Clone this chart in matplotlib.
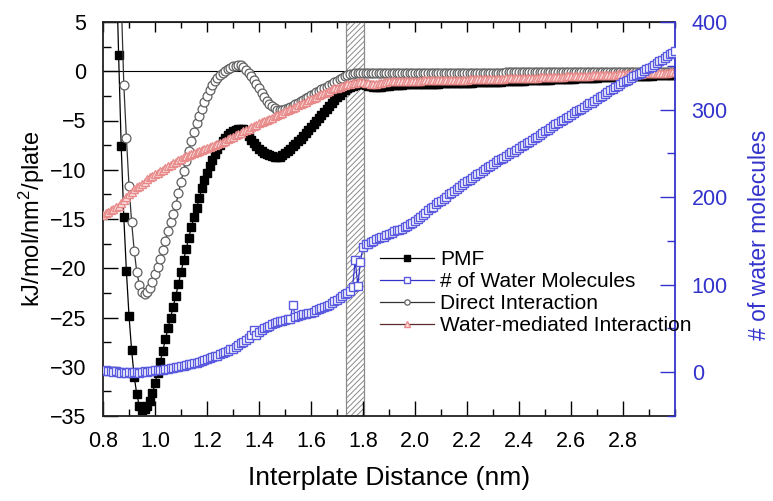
import numpy as np
import matplotlib
matplotlib.use("Agg")
import matplotlib.pyplot as plt
from matplotlib.ticker import MultipleLocator, FixedLocator, FormatStrFormatter

plt.rcParams["font.family"] = ["Liberation Sans", "DejaVu Sans"]
plt.rcParams["mathtext.default"] = "regular"
plt.rcParams["hatch.linewidth"] = 0.7
plt.rcParams["hatch.color"] = "#8a8a8a"

BLUE = "#3333cc"
SQ_BLUE = "#5a5ae0"
PINK = "#e88a8a"

# energies (kJ/mol/nm^2/plate), 0.01 nm spacing
x_pmf = np.round(np.arange(0.85, 3.0001, 0.01), 2)
pmf = [
    12.0, 1.7, -7.6, -14.8, -20.3, -24.8, -28.3, -31.0, -32.8, -34.0,
    -34.4, -34.3, -34.0, -33.5, -32.7, -31.7, -30.6, -29.5, -28.4, -27.2,
    -26.1, -25.0, -23.9, -22.8, -21.6, -20.4, -19.2, -18.0, -16.9, -15.8,
    -14.8, -13.9, -12.9, -11.9, -11.0, -10.3, -9.6, -9.0, -8.4, -7.9,
    -7.5, -7.1, -6.8, -6.5, -6.3, -6.1, -6.0, -5.9, -5.85, -5.9,
    -6.2, -6.6, -7.0, -7.3, -7.6, -7.85, -8.1, -8.3, -8.45, -8.55,
    -8.65, -8.7, -8.75, -8.7, -8.55, -8.35, -8.1, -7.85, -7.6, -7.35,
    -7.1, -6.85, -6.55, -6.25, -5.95, -5.65, -5.35, -5.05, -4.75, -4.45,
    -4.15, -3.85, -3.55, -3.25, -2.95, -2.65, -2.4, -2.15, -1.95, -1.75,
    -1.6, -1.45, -1.35, -1.3, -1.25, -1.3, -1.4, -1.45, -1.5, -1.55,
    -1.6, -1.6, -1.55, -1.5, -1.45, -1.45, -1.4, -1.4, -1.35, -1.35,
    -1.35, -1.3, -1.3, -1.3, -1.3, -1.3, -1.3, -1.3, -1.25, -1.25,
    -1.25, -1.25, -1.25, -1.25, -1.25, -1.2, -1.2, -1.2, -1.2, -1.2,
    -1.2, -1.2, -1.2, -1.15, -1.15, -1.15, -1.15, -1.15, -1.1, -1.1,
    -1.1, -1.1, -1.1, -1.1, -1.05, -1.05, -1.05, -1.05, -1.05, -1.0,
    -1.0, -1.0, -1.0, -1.0, -0.95, -0.95, -0.95, -0.95, -0.9, -0.9,
    -0.9, -0.9, -0.9, -0.85, -0.85, -0.85, -0.85, -0.85, -0.8, -0.8,
    -0.8, -0.8, -0.8, -0.75, -0.75, -0.75, -0.75, -0.7, -0.7, -0.7,
    -0.7, -0.7, -0.65, -0.65, -0.65, -0.65, -0.6, -0.6, -0.6, -0.6,
    -0.6, -0.55, -0.55, -0.55, -0.55, -0.5, -0.5, -0.5, -0.5, -0.5,
    -0.5, -0.45, -0.45, -0.45, -0.45, -0.45, -0.45, -0.4, -0.4, -0.4,
    -0.4, -0.4, -0.4, -0.4, -0.35, -0.35,
]
direct = [
    26.0, 17.0, 7.5, -1.35, -6.8, -11.6, -15.3, -18.2, -20.4, -21.7,
    -22.4, -22.6, -22.4, -22.0, -21.4, -20.6, -19.9, -19.1, -18.1, -17.2,
    -16.2, -15.3, -14.5, -13.6, -12.4, -11.2, -10.1, -9.1, -8.1, -7.1,
    -6.2, -5.3, -4.5, -3.8, -3.1, -2.5, -1.9, -1.4, -1.0, -0.65,
    -0.4, -0.15, 0.05, 0.22, 0.38, 0.5, 0.57, 0.6, 0.6, 0.45,
    0.15, -0.15, -0.5, -0.9, -1.3, -1.75, -2.2, -2.65, -3.0, -3.3,
    -3.55, -3.75, -3.9, -3.95, -3.95, -3.85, -3.75, -3.65, -3.5, -3.35,
    -3.2, -3.05, -2.9, -2.75, -2.6, -2.45, -2.3, -2.15, -2.0, -1.85,
    -1.7, -1.55, -1.4, -1.25, -1.1, -0.95, -0.8, -0.65, -0.5, -0.4,
    -0.3, -0.25, -0.2, -0.18, -0.16, -0.15, -0.15, -0.15, -0.15, -0.15,
    -0.15, -0.15, -0.15, -0.15, -0.15, -0.15, -0.15, -0.15, -0.15, -0.15,
    -0.15, -0.15, -0.15, -0.15, -0.15, -0.15, -0.15, -0.15, -0.15, -0.15,
    -0.15, -0.15, -0.15, -0.15, -0.15, -0.15, -0.15, -0.15, -0.15, -0.15,
    -0.15, -0.15, -0.15, -0.15, -0.15, -0.14, -0.14, -0.14, -0.14, -0.14,
    -0.13, -0.13, -0.13, -0.13, -0.13, -0.13, -0.13, -0.13, -0.13, -0.13,
    -0.12, -0.12, -0.12, -0.12, -0.12, -0.12, -0.12, -0.12, -0.12, -0.12,
    -0.12, -0.12, -0.12, -0.12, -0.12, -0.12, -0.12, -0.12, -0.12, -0.12,
    -0.11, -0.11, -0.11, -0.11, -0.11, -0.11, -0.11, -0.11, -0.11, -0.11,
    -0.1, -0.1, -0.1, -0.1, -0.1, -0.1, -0.1, -0.1, -0.1, -0.1,
    -0.1, -0.1, -0.1, -0.1, -0.1, -0.1, -0.1, -0.1, -0.1, -0.1,
    -0.09, -0.09, -0.09, -0.09, -0.09, -0.08, -0.08, -0.08, -0.08, -0.08,
    -0.07, -0.07, -0.07, -0.06, -0.06, -0.05,
]

x_wat = np.round(np.arange(0.80, 3.0001, 0.01), 2)
water_med = [
    -14.6, -14.4, -14.3, -14.1, -14.0, -13.8, -13.7, -13.4, -13.1, -12.8,
    -12.5, -12.3, -12.0, -11.8, -11.6, -11.4, -11.2, -10.9, -10.7, -10.6,
    -10.4, -10.3, -10.1, -10.0, -9.8, -9.65, -9.5, -9.35, -9.2, -9.05,
    -8.9, -8.75, -8.6, -8.5, -8.4, -8.25, -8.15, -8.05, -7.95, -7.85,
    -7.75, -7.65, -7.55, -7.5, -7.4, -7.3, -7.2, -7.05, -6.9, -6.75,
    -6.65, -6.5, -6.4, -6.25, -6.1, -6.0, -5.85, -5.7, -5.6, -5.45,
    -5.3, -5.2, -5.05, -4.95, -4.8, -4.7, -4.55, -4.45, -4.3, -4.2,
    -4.05, -3.95, -3.8, -3.7, -3.6, -3.45, -3.35, -3.2, -3.1, -2.95,
    -2.85, -2.7, -2.6, -2.45, -2.35, -2.2, -2.1, -2.0, -1.85, -1.75,
    -1.65, -1.55, -1.45, -1.4, -1.3, -1.25, -1.2, -1.15, -1.1, -1.1,
    -1.1, -1.15, -1.2, -1.25, -1.25, -1.25, -1.2, -1.15, -1.1, -1.05,
    -1.0, -1.0, -1.0, -1.0, -1.0, -0.98, -0.98, -0.97, -0.96, -0.95,
    -0.95, -0.95, -0.94, -0.93, -0.93, -0.92, -0.92, -0.91, -0.9, -0.9,
    -0.9, -0.89, -0.88, -0.88, -0.87, -0.86, -0.86, -0.85, -0.85, -0.84,
    -0.84, -0.83, -0.82, -0.82, -0.81, -0.8, -0.8, -0.79, -0.78, -0.78,
    -0.77, -0.76, -0.76, -0.75, -0.74, -0.73, -0.73, -0.72, -0.71, -0.7,
    -0.7, -0.69, -0.68, -0.67, -0.66, -0.65, -0.65, -0.64, -0.63, -0.62,
    -0.61, -0.6, -0.59, -0.58, -0.57, -0.56, -0.55, -0.54, -0.53, -0.52,
    -0.51, -0.5, -0.49, -0.48, -0.47, -0.46, -0.45, -0.44, -0.43, -0.42,
    -0.41, -0.4, -0.39, -0.38, -0.37, -0.35, -0.34, -0.33, -0.32, -0.31,
    -0.3, -0.29, -0.28, -0.27, -0.26, -0.25, -0.24, -0.23, -0.22, -0.21,
    -0.2, -0.19, -0.18, -0.17, -0.16, -0.15, -0.14, -0.13, -0.12, -0.11,
    -0.1,
]
n_water = [
    1, 2, 1, 1, 0, 1, 0, -1, 0, -1,
    0, -1, 0, 0, -1, 0, 1, 0, 1, 1,
    2, 2, 3, 3, 4, 4, 5, 5, 6, 6,
    7, 7, 8, 9, 9, 10, 11, 12, 13, 14,
    15, 16, 17, 18, 19, 21, 22, 23, 24, 26,
    27, 29, 31, 33, 35, 37, 39, 42, 48, 43,
    46, 48, 50, 52, 53, 55, 56, 57, 58, 59,
    60, 61, 61, 77, 63, 64, 65, 66, 67, 68,
    68, 69, 71, 72, 73, 74, 76, 77, 79, 81,
    83, 85, 87, 89, 91, 93, 97, 128, 99, 126,
    143, 146, 147, 149, 150, 152, 153, 154, 155, 157,
    158, 159, 161, 162, 163, 164, 166, 167, 169, 171,
    173, 175, 177, 180, 182, 185, 187, 189, 192, 194,
    196, 198, 200, 203, 205, 207, 209, 212, 214, 216,
    218, 220, 222, 224, 226, 228, 230, 232, 234, 236,
    238, 240, 242, 243, 245, 247, 249, 251, 252, 254,
    256, 258, 260, 262, 263, 265, 267, 269, 271, 273,
    275, 277, 279, 281, 283, 285, 287, 288, 290, 292,
    294, 296, 298, 299, 301, 303, 305, 307, 308, 310,
    312, 314, 316, 318, 320, 322, 324, 326, 327, 329,
    331, 333, 334, 336, 338, 339, 341, 342, 344, 346,
    347, 349, 351, 353, 355, 357, 359, 361, 363, 365,
    367,
]

# shaded transition window
band = (1.735, 1.805)

fig = plt.figure(figsize=(7.73, 5.01), dpi=100)
ax = fig.add_axes([103 / 773, 85 / 501, 572 / 773, 394 / 501])

ax.axvspan(*band, facecolor="white", edgecolor="#8a8a8a", hatch="//////",
           lw=0.9, zorder=1)
ax.axhline(0, color="black", lw=0.8, zorder=1.5)

l_pmf, = ax.plot(x_pmf, pmf, "-s", color="black", lw=0.9, ms=6.2,
                 mfc="black", mec="black", zorder=2, label="PMF")
l_dir, = ax.plot(x_pmf, direct, "-o", color="#333333", lw=0.9, ms=6.4,
                 mfc="white", mec="#606060", mew=0.9, zorder=3,
                 label="Direct Interaction")
l_wm, = ax.plot(x_wat, water_med, "-^", color="#5a2a2a", lw=0.9, ms=6.2,
                mfc="#fbe3e3", mec=PINK, mew=1.0, zorder=4,
                label="Water-mediated Interaction")

ax.set_xlim(0.8, 3.0)
ax.set_ylim(-35, 5)
ax.xaxis.set_major_locator(FixedLocator(np.round(np.arange(0.8, 2.81, 0.2), 1)))
ax.xaxis.set_major_formatter(FormatStrFormatter("%.1f"))
ax.xaxis.set_minor_locator(MultipleLocator(0.1))
ax.yaxis.set_major_locator(MultipleLocator(5))
ax.yaxis.set_minor_locator(MultipleLocator(2.5))
ax.tick_params(which="both", direction="in", labelsize=15.5, top=False,
               right=False, width=1.0)
ax.tick_params(axis="x", which="major", length=11, pad=11)
ax.tick_params(axis="x", which="minor", length=5)
ax.tick_params(axis="y", which="major", length=11, pad=12)
ax.tick_params(axis="y", which="minor", length=6)
for s in ("left", "bottom", "top"):
    ax.spines[s].set_linewidth(1.3)
    ax.spines[s].set_color("#222222")
ax.spines["right"].set_visible(False)

top = ax.secondary_xaxis("top")
top.xaxis.set_major_locator(FixedLocator(np.round(np.arange(0.8, 2.81, 0.2), 1)))
top.xaxis.set_minor_locator(MultipleLocator(0.1))
top.tick_params(which="both", direction="in", labeltop=False, width=1.0)
top.tick_params(which="major", length=7)
top.tick_params(which="minor", length=4)

ax.set_xlabel("Interplate Distance (nm)", fontsize=19, labelpad=10)
ax.set_ylabel("kJ/mol/nm$^2$/plate", fontsize=17, labelpad=2)

ax2 = ax.twinx()
l_wat, = ax2.plot(x_wat, n_water, "-s", color=BLUE, lw=0.9, ms=6.2,
                  mfc="white", mec=SQ_BLUE, mew=1.0, zorder=3,
                  label="# of Water Molecules")
ax2.set_ylim(-50, 400)
ax2.yaxis.set_major_locator(MultipleLocator(100))
ax2.yaxis.set_minor_locator(MultipleLocator(50))
ax2.tick_params(which="both", direction="in", colors=BLUE, labelsize=15.5,
                width=1.0)
ax2.tick_params(which="major", length=11, pad=12)
ax2.tick_params(which="minor", length=6)
for s in ("left", "bottom", "top"):
    ax2.spines[s].set_visible(False)
ax2.spines["right"].set_color(BLUE)
ax2.spines["right"].set_linewidth(1.3)
ax2.set_ylabel("# of water molecules", fontsize=16.5, color=BLUE)
ax2.yaxis.set_label_coords(1.127, 0.46)

leg = ax2.legend([l_pmf, l_wat, l_dir, l_wm],
                 [h.get_label() for h in (l_pmf, l_wat, l_dir, l_wm)],
                 loc="upper left", bbox_to_anchor=(380 / 773, 1 - 250 / 501),
                 bbox_transform=fig.transFigure, frameon=False, fontsize=15,
                 handlelength=2.6, handletextpad=0.3, labelspacing=0.15,
                 borderpad=0, borderaxespad=0, markerscale=0.6)

fig.savefig("out.png", dpi=100)
